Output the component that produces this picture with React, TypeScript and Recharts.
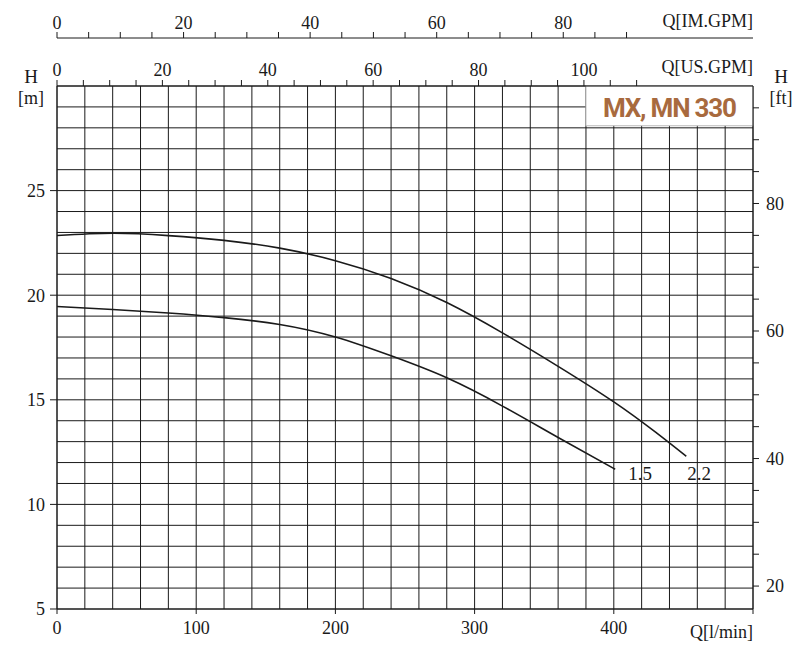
import React from "react";
import { LineChart, Line, XAxis, YAxis, CartesianGrid, ReferenceArea } from "recharts";

// unit conversions for the secondary axes
const L_PER_US_GAL = 3.785411784;
const L_PER_IM_GAL = 4.54609;
const FT_PER_M = 3.28084;

const Q_MAX = 500; // l/min
const H_MIN = 5; // m
const H_MAX = 30;
const US_MAX = Q_MAX / L_PER_US_GAL;
const IM_MAX = Q_MAX / L_PER_IM_GAL;

// tick values
const qTicks = [0, 100, 200, 300, 400, 500];
const hTicks = [5, 10, 15, 20, 25];
const ftTicks = [20, 25, 30, 35, 40, 45, 50, 55, 60, 65, 70, 75, 80, 85, 90, 95];
const usGpmTicks = [0, 5, 10, 15, 20, 25, 30, 35, 40, 45, 50, 55, 60, 65, 70, 75, 80, 85, 90, 95, 100, 105, 110];
const imGpmTicks = [0, 5, 10, 15, 20, 25, 30, 35, 40, 45, 50, 55, 60, 65, 70, 75, 80, 85, 90];
const gridQ = [0, 20, 40, 60, 80, 100, 120, 140, 160, 180, 200, 220, 240, 260, 280, 300, 320, 340, 360, 380, 400, 420, 440, 460, 480, 500];
const gridH = [5, 6, 7, 8, 9, 10, 11, 12, 13, 14, 15, 16, 17, 18, 19, 20, 21, 22, 23, 24, 25, 26, 27, 28, 29, 30];

// pump curves (Q in l/min, H in m)
const q22 = [0, 40, 80, 120, 160, 200, 240, 280, 320, 360, 400, 430, 452];
const h22 = [22.85, 22.96, 22.85, 22.62, 22.25, 21.65, 20.8, 19.65, 18.2, 16.6, 14.9, 13.45, 12.3];
const q15 = [0, 40, 80, 120, 160, 200, 240, 280, 320, 360, 401];
const h15 = [19.46, 19.32, 19.15, 18.93, 18.6, 18.0, 17.1, 16.05, 14.7, 13.2, 11.68];

const data22 = q22.map((q, i) => ({ q, h: h22[i] }));
const data15 = q15.map((q, i) => ({ q, h: h15[i] }));

// invisible helpers so the top unit axes get a domain
const usSpan = [{ us: 0, h: H_MIN }, { us: US_MAX, h: H_MIN }];
const imSpan = [{ im: 0, h: H_MIN }, { im: IM_MAX, h: H_MIN }];

const SERIF = "'Liberation Serif', 'DejaVu Serif', serif";
const INK = "#1a1a1a";
const tickStyle = { fontSize: 18, fill: INK, fontFamily: SERIF };

const every20 = (v: number) => (v % 20 === 0 ? String(v) : "");

const endLabel = (name: string, n: number, dx: number, dy: number) => (props: any) => {
  if (props.index !== n - 1) return null;
  return (
    <text x={props.x + dx} y={props.y + dy} textAnchor="middle" fontSize={19} fontFamily={SERIF} fill={INK}>
      {name}
    </text>
  );
};

export default function App() {
  return (
    <div style={{ position: "absolute", left: 0, top: 0, width: 802, height: 645, background: "#fff" }}>
      <LineChart width={802} height={645} margin={{ top: 0, right: 9, left: 7, bottom: 6 }}>
        <CartesianGrid
          xAxisId="q"
          yAxisId="m"
          stroke={INK}
          strokeWidth={1}
          verticalValues={gridQ}
          horizontalValues={gridH}
        />
        <XAxis
          xAxisId="q"
          dataKey="q"
          type="number"
          domain={[0, Q_MAX]}
          ticks={qTicks}
          interval={0}
          tickFormatter={(v) => (v === Q_MAX ? "" : String(v))}
          tick={tickStyle}
          tickSize={5}
          tickMargin={7}
          height={30}
          stroke={INK}
          allowDataOverflow
        />
        <XAxis
          xAxisId="b_im"
          dataKey="im"
          orientation="top"
          type="number"
          domain={[0, IM_MAX]}
          ticks={imGpmTicks}
          interval={0}
          tickFormatter={every20}
          tick={tickStyle}
          tickSize={6}
          tickMargin={3}
          height={38}
          stroke={INK}
          allowDataOverflow
        />
        <XAxis
          xAxisId="a_us"
          dataKey="us"
          orientation="top"
          type="number"
          domain={[0, US_MAX]}
          ticks={usGpmTicks}
          interval={0}
          tickFormatter={every20}
          tick={tickStyle}
          tickSize={6}
          tickMargin={4}
          height={48}
          stroke={INK}
          allowDataOverflow
        />
        <YAxis
          yAxisId="m"
          type="number"
          domain={[H_MIN, H_MAX]}
          ticks={hTicks}
          interval={0}
          tick={tickStyle}
          tickSize={7}
          tickMargin={5}
          width={50}
          stroke={INK}
          allowDataOverflow
        />
        <YAxis
          yAxisId="ft"
          orientation="right"
          type="number"
          domain={[H_MIN * FT_PER_M, H_MAX * FT_PER_M]}
          ticks={ftTicks}
          interval={0}
          tickFormatter={every20}
          tick={tickStyle}
          tickSize={6}
          tickMargin={7}
          width={40}
          stroke={INK}
          allowDataOverflow
        />
        <ReferenceArea
          xAxisId="q"
          yAxisId="m"
          x1={380}
          x2={Q_MAX}
          y1={28.1}
          y2={H_MAX}
          fill="#fff"
          fillOpacity={1}
          stroke="#bbb"
          strokeWidth={1}
        />
        <Line
          xAxisId="a_us"
          yAxisId="m"
          data={usSpan}
          dataKey="h"
          stroke="none"
          dot={false}
          activeDot={false}
          legendType="none"
          isAnimationActive={false}
        />
        <Line
          xAxisId="b_im"
          yAxisId="m"
          data={imSpan}
          dataKey="h"
          stroke="none"
          dot={false}
          activeDot={false}
          legendType="none"
          isAnimationActive={false}
        />
        <Line
          xAxisId="q"
          yAxisId="m"
          data={data15}
          dataKey="h"
          type="natural"
          stroke={INK}
          strokeWidth={1.6}
          dot={false}
          isAnimationActive={false}
          label={endLabel("1.5", data15.length, 25, 11)}
        />
        <Line
          xAxisId="q"
          yAxisId="m"
          data={data22}
          dataKey="h"
          type="natural"
          stroke={INK}
          strokeWidth={1.6}
          dot={false}
          isAnimationActive={false}
          label={endLabel("2.2", data22.length, 13, 24)}
        />
      </LineChart>
      <svg
        width={802}
        height={645}
        style={{ position: "absolute", left: 0, top: 0, pointerEvents: "none" }}
        fontFamily={SERIF}
        fill={INK}
      >
        <text x={753} y={27} textAnchor="end" fontSize={18}>Q[IM.GPM]</text>
        <text x={753} y={73} textAnchor="end" fontSize={18}>Q[US.GPM]</text>
        <text x={31} y={83} textAnchor="middle" fontSize={19}>H</text>
        <text x={31} y={104} textAnchor="middle" fontSize={18}>[m]</text>
        <text x={781} y={83} textAnchor="middle" fontSize={19}>H</text>
        <text x={781} y={104} textAnchor="middle" fontSize={18}>[ft]</text>
        <text x={753} y={638} textAnchor="end" fontSize={18}>Q[l/min]</text>
        <text
          x={670}
          y={117}
          textAnchor="middle"
          fontSize={26}
          fontWeight="bold"
          fill="#a86a3e"
          fontFamily="'Liberation Sans Narrow', 'Roboto', Arial, sans-serif"
          textLength={134}
        >
          MX, MN 330
        </text>
      </svg>
    </div>
  );
}
